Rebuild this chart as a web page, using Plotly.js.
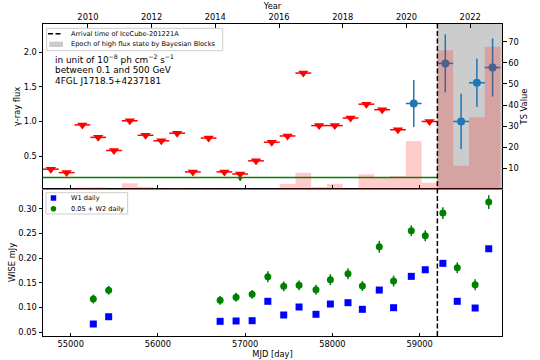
<!DOCTYPE html>
<html lang="en">
<head>
    <meta charset="UTF-8">
    <title>4FGL J1718.5+4237 light curve</title>
    <script src="https://cdn.plot.ly/plotly-3.0.1.min.js"></script>
    <style>
        body, html {
            margin: 0;
            padding: 0;
            background: white;
        }
        #chart {
            width: 540px;
            height: 360px;
        }
    </style>
</head>
<body>
    <div id="chart"></div>
    <script>
        // time axis
        const mjdStart = 54682;
        const mjdEnd = 59945;
        const iceCubeMjd = 59204;
        const yearStart = 2008.590;
        const yearEnd = 2022.999;
        const mjdTicks = [55000, 56000, 57000, 58000, 59000];
        const yearTicks = [2010, 2012, 2014, 2016, 2018, 2020, 2022];

        // Fermi-LAT bins (half-year)
        const binWidth = 180.88;
        const binMjd = [54772, 54953, 55134, 55315, 55496, 55677, 55858, 56039, 56220, 56400,
                        56581, 56762, 56943, 57124, 57305, 57486, 57667, 57848, 58028, 58209,
                        58390, 58571, 58752, 58933, 59114, 59295, 59476, 59657, 59837];
        // upper limits (null where detected)
        const ulFlux = [0.31, 0.26, 0.95, 0.77, 0.58, 1.01, 0.80, 0.72, 0.83, 0.27,
                        0.76, 0.27, 0.24, 0.43, 0.70, 0.79, 1.70, 0.94, 0.94, 1.05,
                        1.25, 1.17, 0.88, null, 1.00, null, null, null, null];
        const tsValue = [0, 0, 0.9, 1.0, 0, 2.9, 1.2, 0, 0.5, 0,
                         0.4, 0, 0, 0, 0, 2.6, 7.9, 1.1, 2.6, 0,
                         7.2, 5.7, 6.3, 22.9, 3.2, 66.0, 11.2, 34.2, 67.6];
        // detections
        const detMjd = [58933, 59295, 59476, 59657, 59837];
        const detFlux = [1.26, 1.84, 1.00, 1.56, 1.78];
        const detErr = [0.34, 0.42, 0.40, 0.35, 0.42];
        // low point and mean level before the neutrino
        const lowMjd = [56943];
        const lowFlux = [0.175];
        const lowErrUp = [0.012];
        const lowErrDown = [0.035];
        const meanLevel = 0.19;

        // WISE
        const wiseMjd = [55259, 55435, 56713, 56896, 57080, 57260, 57442, 57618, 57812, 57977,
                         58179, 58344, 58538, 58702, 58905, 59065, 59267, 59432, 59637, 59793];
        const w1 = [0.0668, 0.0815, 0.0722, 0.0729, 0.0735, 0.1127, 0.0850, 0.1012, 0.0864, 0.1072,
                    0.1099, 0.0965, 0.1355, 0.0998, 0.1632, 0.1766, 0.1895, 0.1127, 0.0991, 0.2190];
        const w1Err = [0.003, 0.003, 0.003, 0.003, 0.003, 0.003, 0.003, 0.003, 0.003, 0.003,
                       0.003, 0.003, 0.003, 0.003, 0.003, 0.003, 0.003, 0.003, 0.003, 0.004];
        const w2Shifted = [0.1173, 0.1350, 0.1147, 0.1208, 0.1268, 0.1624, 0.1430, 0.1450, 0.1360, 0.1564,
                           0.1685, 0.1436, 0.2231, 0.1537, 0.2555, 0.2454, 0.2912, 0.1806, 0.1463, 0.3135];
        const w2Err = [0.009, 0.009, 0.009, 0.009, 0.009, 0.011, 0.010, 0.010, 0.010, 0.011,
                       0.011, 0.010, 0.012, 0.011, 0.011, 0.011, 0.012, 0.011, 0.011, 0.014];

        const font = 'DejaVu Sans';

        const traces = [
            {   // mean level
                x: [mjdStart, iceCubeMjd], y: [meanLevel, meanLevel],
                xaxis: 'x2', yaxis: 'y', mode: 'lines',
                line: {color: 'green', width: 1.5}, hoverinfo: 'skip'
            },
            {   // upper limits
                x: binMjd, y: ulFlux, xaxis: 'x2', yaxis: 'y', mode: 'markers',
                marker: {symbol: 'triangle-down', size: 9, color: 'red'},
                error_x: {type: 'constant', value: binWidth / 2, color: 'red', thickness: 1.5, width: 0}
            },
            {
                x: lowMjd, y: lowFlux, xaxis: 'x2', yaxis: 'y', mode: 'markers',
                marker: {symbol: 'triangle-down', size: 5, color: 'green'},
                error_y: {type: 'data', array: lowErrUp, arrayminus: lowErrDown, color: 'green', thickness: 1.5, width: 0}
            },
            {   // detections
                x: detMjd, y: detFlux, xaxis: 'x2', yaxis: 'y', mode: 'markers',
                marker: {size: 8, color: '#1f77b4'},
                error_x: {type: 'constant', value: binWidth / 2, color: '#1f77b4', thickness: 1.5, width: 0},
                error_y: {type: 'data', array: detErr, color: '#1f77b4', thickness: 1.5, width: 0}
            },
            {   // TS histogram, drawn on top
                x: binMjd, y: tsValue, xaxis: 'x2', yaxis: 'y2', type: 'bar',
                width: binWidth, marker: {color: 'rgba(255,0,0,0.2)', line: {width: 0}}
            },
            {   // keeps the year axis alive
                x: [2015], y: [null], xaxis: 'x3', yaxis: 'y', mode: 'markers', hoverinfo: 'skip'
            },
            {
                x: wiseMjd, y: w1, xaxis: 'x', yaxis: 'y3', mode: 'markers',
                marker: {symbol: 'square', size: 7, color: 'blue'},
                error_y: {type: 'data', array: w1Err, color: 'blue', thickness: 1.5, width: 0}
            },
            {
                x: wiseMjd, y: w2Shifted, xaxis: 'x', yaxis: 'y3', mode: 'markers',
                marker: {size: 7, color: 'green'},
                error_y: {type: 'data', array: w2Err, color: 'green', thickness: 1.5, width: 0}
            }
        ];

        const split = 0.4712;
        const axisBase = {
            showline: true, linecolor: 'black', linewidth: 1,
            showgrid: false, zeroline: false,
            ticklen: 3.5, tickcolor: 'black', tickwidth: 1,
            tickfont: {family: font, size: 8.3}
        };

        const layout = {
            width: 540, height: 360,
            margin: {l: 43, r: 38, t: 24, b: 24},
            paper_bgcolor: 'white', plot_bgcolor: 'white',
            font: {family: font, size: 8.3, color: 'black'},
            showlegend: false,
            xaxis: Object.assign({}, axisBase, {
                domain: [0, 1], anchor: 'y3', range: [mjdStart, mjdEnd],
                tickvals: mjdTicks, tickformat: 'd', ticks: 'inside', mirror: true,
                title: {text: 'MJD [day]', standoff: 3, font: {family: font, size: 8.3}}
            }),
            xaxis2: Object.assign({}, axisBase, {
                matches: 'x', anchor: 'y', tickvals: mjdTicks, ticks: 'inside',
                showticklabels: false, linecolor: '#808080', linewidth: 1.5
            }),
            xaxis3: Object.assign({}, axisBase, {
                overlaying: 'x2', anchor: 'y', side: 'top', range: [yearStart, yearEnd],
                tickvals: yearTicks, ticks: 'inside',
                title: {text: 'Year', standoff: 0, font: {family: font, size: 8.3}}
            }),
            yaxis: Object.assign({}, axisBase, {
                domain: [split, 1], anchor: 'x2', range: [0.023, 2.41],
                tickvals: [0.5, 1.0, 1.5, 2.0], tickformat: '.1f', ticks: 'outside',
                title: {text: 'γ-ray flux', standoff: 1, font: {family: font, size: 8.3}}
            }),
            yaxis2: Object.assign({}, axisBase, {
                overlaying: 'y', anchor: 'x2', side: 'right', range: [0.2, 78.4],
                tickvals: [10, 20, 30, 40, 50, 60, 70], ticks: 'outside',
                title: {text: 'TS Value', standoff: 2, font: {family: font, size: 8.3}}
            }),
            yaxis3: Object.assign({}, axisBase, {
                domain: [0, split], anchor: 'x', range: [0.0425, 0.340],
                tickvals: [0.05, 0.10, 0.15, 0.20, 0.25, 0.30], tickformat: '.2f', ticks: 'outside',
                mirror: true,
                title: {text: 'WISE mJy', standoff: 1, font: {family: font, size: 8.3}}
            }),
            shapes: [
                // epoch of high flux state
                {type: 'rect', xref: 'x2', yref: 'y domain', x0: iceCubeMjd, x1: mjdEnd, y0: 0, y1: 1,
                 fillcolor: '#cccccc', line: {width: 0}, layer: 'below'},
                // neutrino arrival
                {type: 'line', xref: 'x', yref: 'paper', x0: iceCubeMjd, x1: iceCubeMjd, y0: 0, y1: 1,
                 line: {color: 'black', width: 1.5, dash: '5px,2.5px'}},
                // top legend
                {type: 'rect', xref: 'paper', yref: 'paper', x0: 0.008, x1: 0.3915, y0: 0.9144, y1: 0.9862,
                 fillcolor: 'rgba(255,255,255,0.85)', line: {color: '#cccccc', width: 1}},
                {type: 'line', xref: 'paper', yref: 'paper', x0: 0.0109, x1: 0.0436, y0: 0.9686, y1: 0.9686,
                 line: {color: 'black', width: 1.5, dash: '5px,2.5px'}},
                {type: 'rect', xref: 'paper', yref: 'paper', x0: 0.0135, x1: 0.0436, y0: 0.9262, y1: 0.9436,
                 fillcolor: '#cccccc', line: {width: 0}},
                // bottom legend
                {type: 'rect', xref: 'paper', yref: 'paper', x0: 0.0065, x1: 0.1845, y0: 0.391, y1: 0.4593,
                 fillcolor: 'rgba(255,255,255,0.85)', line: {color: '#cccccc', width: 1}},
                {type: 'rect', xref: 'paper', yref: 'paper', x0: 0.0168, x1: 0.0288, y0: 0.4335, y1: 0.4511,
                 fillcolor: 'blue', line: {width: 0}},
                {type: 'circle', xref: 'paper', yref: 'paper', x0: 0.0168, x1: 0.0288, y0: 0.399, y1: 0.417,
                 fillcolor: 'green', line: {width: 0}}
            ],
            annotations: [
                {xref: 'paper', yref: 'paper', x: 0.0218, y: 0.887, xanchor: 'left', yanchor: 'middle', showarrow: false,
                 text: 'in unit of 10<sup>−8</sup> ph cm<sup>−2</sup> s<sup>−1</sup>', font: {family: font, size: 8.9}},
                {xref: 'paper', yref: 'paper', x: 0.0218, y: 0.8526, xanchor: 'left', yanchor: 'middle', showarrow: false,
                 text: 'between 0.1 and 500 GeV', font: {family: font, size: 8.9}},
                {xref: 'paper', yref: 'paper', x: 0.0218, y: 0.818, xanchor: 'left', yanchor: 'middle', showarrow: false,
                 text: '4FGL J1718.5+4237181', font: {family: font, size: 8.9}},
                {xref: 'paper', yref: 'paper', x: 0.0566, y: 0.9686, xanchor: 'left', yanchor: 'middle', showarrow: false,
                 text: 'Arrival time of IceCube-201221A', font: {family: font, size: 6.6}},
                {xref: 'paper', yref: 'paper', x: 0.0566, y: 0.9349, xanchor: 'left', yanchor: 'middle', showarrow: false,
                 text: 'Epoch of high flux state by Bayesian Blocks', font: {family: font, size: 6.6}},
                {xref: 'paper', yref: 'paper', x: 0.0566, y: 0.4423, xanchor: 'left', yanchor: 'middle', showarrow: false,
                 text: 'W1 daily', font: {family: font, size: 6.6}},
                {xref: 'paper', yref: 'paper', x: 0.0566, y: 0.408, xanchor: 'left', yanchor: 'middle', showarrow: false,
                 text: '0.05 + W2 daily', font: {family: font, size: 6.6}}
            ]
        };

        Plotly.newPlot('chart', traces, layout, {displayModeBar: false, staticPlot: true});
    </script>
</body>
</html>
